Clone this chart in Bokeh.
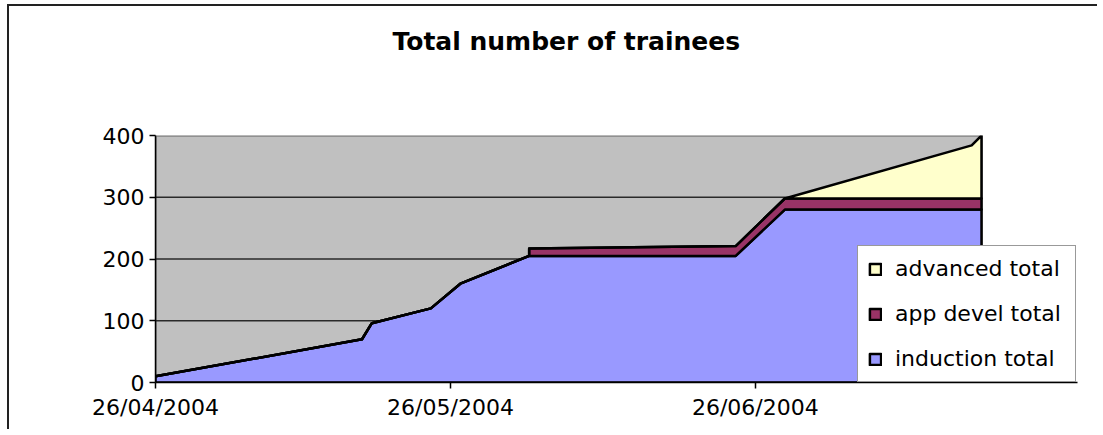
import pandas as pd
from bokeh.plotting import figure
from bokeh.models import (FixedTicker, DatetimeTickFormatter, Legend, LegendItem, Title)
from bokeh.embed import file_html
from bokeh.resources import INLINE

# ---- data ----
dates = ["2004-04-26", "2004-05-17", "2004-05-18", "2004-05-24", "2004-05-27",
         "2004-06-03", "2004-06-03", "2004-06-24", "2004-06-29", "2004-07-18",
         "2004-07-19"]
induction_total = [10, 70, 96, 120, 160, 205, 205, 205, 280, 280, 280]
app_devel_total = [0, 0, 0, 0, 0, 0, 12, 16, 18, 18, 18]
advanced_total = [0, 0, 0, 0, 0, 0, 0, 0, 0, 86, 102]
series_names = ["induction total", "app devel total", "advanced total"]
series_colors = ["#9999FF", "#993366", "#FFFFCC"]
tick_dates = ["2004-04-26", "2004-05-26", "2004-06-26"]
y_ticks = [0, 100, 200, 300, 400]
grid_values = [100, 200, 300]
title_text = "Total number of trainees"

FONT = "DejaVu Sans"

x = list(pd.to_datetime(dates))
base = [0] * len(x)
top1 = list(induction_total)
top2 = [a + b for a, b in zip(top1, app_devel_total)]
top3 = [a + b for a, b in zip(top2, advanced_total)]

# frame is extended to the right so the legend (which sits beyond the plot area) fits
span = x[-1] - x[0]
x_end = x[-1] + span * (96 / 826)

p = figure(width=1090, height=425, x_axis_type="datetime",
           x_range=(x[0], x_end), y_range=(0, 400),
           output_backend="svg", toolbar_location=None,
           min_border_left=146, min_border_right=22,
           min_border_bottom=49, min_border_top=0)
p.styles = {"border-top": "2px solid #222222", "border-left": "2px solid #222222",
            "margin-left": "7px", "margin-top": "4px"}

p.title = Title(text=title_text, align="left", offset=237, text_font=FONT,
                text_font_size="25px", text_font_style="bold",
                text_color="black", standoff=36)
# spacer between title and plot area
p.add_layout(Title(text=" ", text_font_size="1px", standoff=59), "above")

p.background_fill_color = "white"
p.border_fill_color = "white"
p.outline_line_color = None

# plot area (gray) limited to the data span
p.quad(left=[x[0]], right=[x[-1]], bottom=[y_ticks[0]], top=[y_ticks[-1]],
       fill_color="#C0C0C0", line_color="#808080", line_width=2.5)
# gridlines inside plot area
p.segment(x0=[x[0]] * len(grid_values), x1=[x[-1]] * len(grid_values),
          y0=grid_values, y1=grid_values, line_color="#2a2a2a", line_width=1.5)

renderers = []
layers = [(base, top1), (top1, top2), (top2, top3)]
for (lo, hi), col in zip(layers, series_colors):
    xs = x + x[::-1]
    ys = hi + lo[::-1]
    r = p.patch(xs, ys, fill_color=col, line_color="black", line_width=2.5,
                line_join="round")
    renderers.append(r)

# axes
p.xaxis.ticker = FixedTicker(ticks=[pd.Timestamp(d).value / 1e6 for d in tick_dates])
p.xaxis.formatter = DatetimeTickFormatter(days="%d/%m/%Y", months="%d/%m/%Y",
                                          years="%d/%m/%Y")
p.yaxis.ticker = FixedTicker(ticks=y_ticks)
for ax in (p.xaxis, p.yaxis):
    ax.axis_line_color = "black"
    ax.axis_line_width = 1.5
    ax.major_tick_line_color = "black"
    ax.major_tick_line_width = 1.5
    ax.major_tick_out = 6
    ax.major_tick_in = 0
    ax.minor_tick_line_color = None
    ax.major_label_text_font = FONT
    ax.major_label_text_font_size = "22px"
    ax.major_label_text_color = "black"
p.yaxis.major_label_standoff = 5
p.xaxis.major_label_standoff = 6

p.xgrid.grid_line_color = None
p.ygrid.grid_line_color = None

items = [LegendItem(label=series_names[i], renderers=[renderers[i]]) for i in (2, 1, 0)]
legend = Legend(items=items, location=(702, 0), margin=0, padding=10,
                spacing=20, glyph_width=14, glyph_height=14, label_height=24,
                label_width=170, label_standoff=13,
                label_text_font=FONT, label_text_font_size="22px",
                label_text_color="black",
                border_line_color="#333333", border_line_width=1.5,
                background_fill_color="white", background_fill_alpha=1.0)
p.add_layout(legend, "center")

open("out.html", "w").write(file_html(p, INLINE))
